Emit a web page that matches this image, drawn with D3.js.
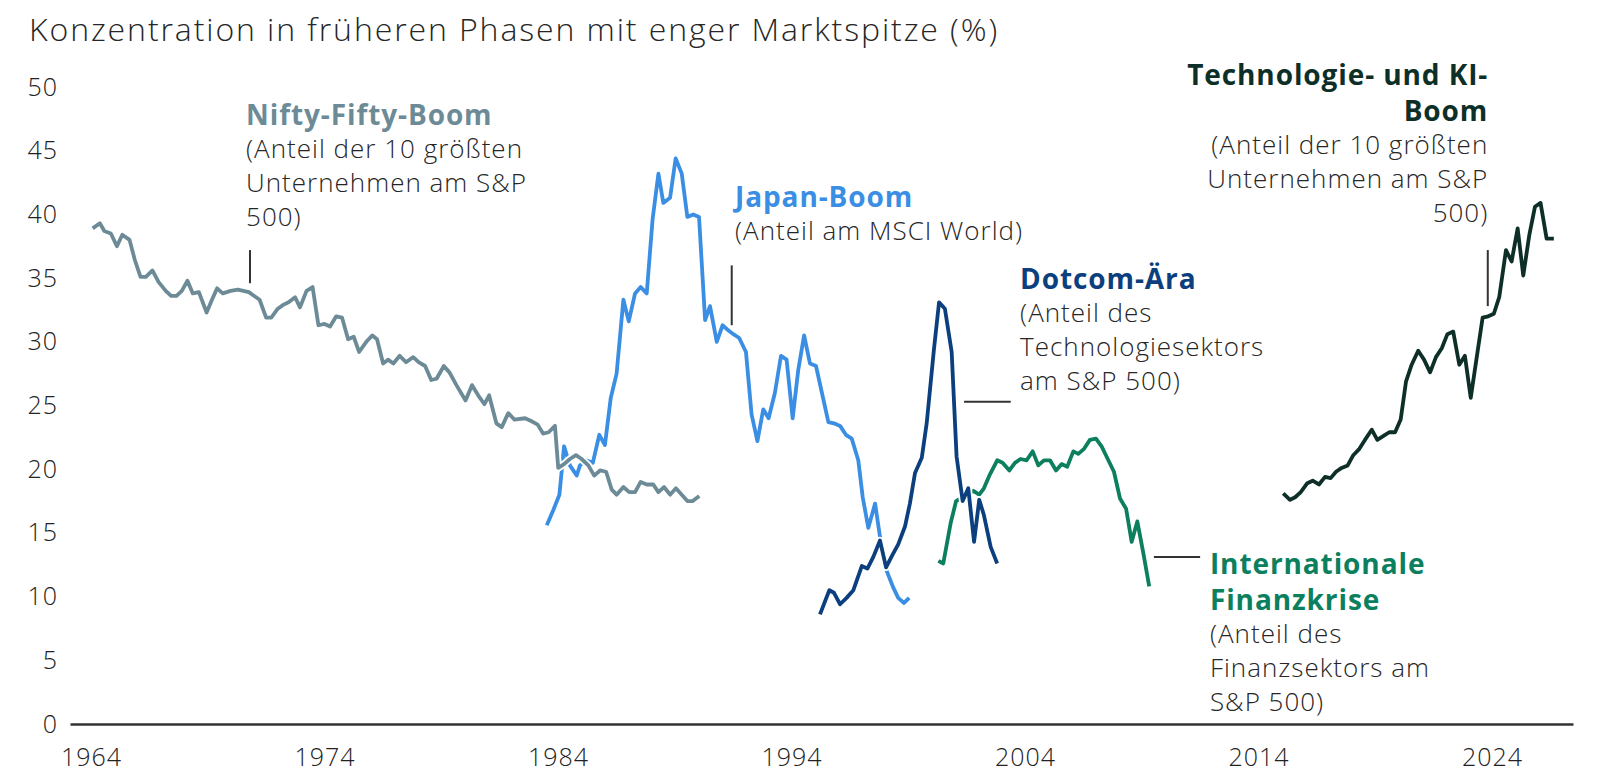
<!DOCTYPE html>
<html>
<head>
<meta charset="utf-8">
<script src="https://cdn.jsdelivr.net/npm/d3@7"></script>
<style>
  body { margin: 0; background: #fff; }
  svg { display: block; }
  text { font-family: "Open Sans", sans-serif; }
</style>
</head>
<body>
<div id="chart"></div>
<script>
// tick labels
var xTicks = [1964, 1974, 1984, 1994, 2004, 2014, 2024];
var yTicks = [0, 5, 10, 15, 20, 25, 30, 35, 40, 45, 50];

// [year, share in %]
var nifty = [
  [1964.07,38.9],[1964.38,39.3],[1964.57,38.7],[1964.85,38.5],[1965.11,37.5],[1965.34,38.4],[1965.65,38.0],[1965.88,36.4],
  [1966.12,35.1],[1966.35,35.1],[1966.63,35.6],[1966.89,34.7],[1967.2,34.0],[1967.43,33.6],[1967.66,33.6],[1967.89,34.0],
  [1968.13,34.8],[1968.36,33.8],[1968.62,33.9],[1968.95,32.3],[1969.18,33.3],[1969.4,34.2],[1969.64,33.8],[1969.98,34.0],
  [1970.29,34.1],[1970.76,33.9],[1970.99,33.6],[1971.22,33.3],[1971.5,31.9],[1971.72,31.9],[1972.0,32.6],[1972.23,32.9],
  [1972.46,33.1],[1972.74,33.5],[1972.95,32.7],[1973.23,34.0],[1973.49,34.3],[1973.74,31.3],[1974.0,31.4],[1974.24,31.2],
  [1974.5,32.0],[1974.75,31.9],[1975.01,30.2],[1975.25,30.4],[1975.48,29.2],[1975.79,30.0],[1976.05,30.5],[1976.25,30.2],
  [1976.51,28.3],[1976.72,28.6],[1976.95,28.3],[1977.22,28.9],[1977.49,28.4],[1977.8,28.8],[1978.03,28.4],[1978.31,28.1],
  [1978.57,27.0],[1978.8,27.1],[1979.11,28.1],[1979.35,27.6],[1979.65,26.6],[1980.04,25.4],[1980.32,26.6],[1980.58,25.8],
  [1980.85,25.1],[1981.05,25.8],[1981.36,23.6],[1981.59,23.3],[1981.87,24.4],[1982.13,23.9],[1982.59,24.0],[1982.83,23.8],
  [1983.13,23.5],[1983.36,22.8],[1983.6,22.9],[1983.87,23.4],[1984.01,20.1],[1984.26,20.4],[1984.51,20.8],[1984.77,21.1],
  [1985.01,20.8],[1985.3,20.3],[1985.55,19.5],[1985.8,19.9],[1986.06,19.8],[1986.3,18.4],[1986.51,18.0],[1986.8,18.6],
  [1987.05,18.2],[1987.3,18.2],[1987.54,19.0],[1987.8,18.8],[1988.08,18.8],[1988.3,18.2],[1988.54,18.6],[1988.8,18.0],
  [1989.05,18.5],[1989.3,18.0],[1989.54,17.5],[1989.77,17.5],[1990.05,17.9]
];

var japan = [
  [1983.52,15.6],[1983.8,16.8],[1984.06,18.0],[1984.26,21.8],[1984.51,20.3],[1984.8,19.5],[1984.94,20.3],[1985.2,20.7],
  [1985.49,20.5],[1985.77,22.7],[1986.01,21.9],[1986.26,25.6],[1986.51,27.5],[1986.8,33.3],[1987.03,31.6],[1987.3,33.8],
  [1987.54,34.3],[1987.8,33.8],[1988.05,39.6],[1988.3,43.2],[1988.51,40.9],[1988.8,41.3],[1989.04,44.4],[1989.3,43.2],
  [1989.54,39.8],[1989.79,40.0],[1990.04,39.8],[1990.3,31.7],[1990.51,32.8],[1990.8,30.0],[1991.05,31.3],[1991.29,30.9],
  [1991.51,30.6],[1991.76,30.3],[1992.05,29.2],[1992.29,24.3],[1992.54,22.2],[1992.79,24.7],[1993.02,24.0],[1993.29,26.0],
  [1993.55,28.9],[1993.79,28.6],[1994.05,24.0],[1994.29,27.8],[1994.54,30.5],[1994.79,28.3],[1995.05,28.1],[1995.29,26.1],
  [1995.58,23.7],[1995.82,23.6],[1996.08,23.4],[1996.33,22.7],[1996.58,22.4],[1996.86,20.7],[1997.05,17.8],[1997.29,15.4],
  [1997.58,17.3],[1997.79,14.7],[1998.08,12.0],[1998.36,10.7],[1998.57,9.9],[1998.82,9.5],[1999.04,9.9]
];

var dotcom = [
  [1995.22,8.6],[1995.62,10.5],[1995.82,10.3],[1996.08,9.4],[1996.36,9.9],[1996.65,10.5],[1997.01,12.4],[1997.25,12.2],
  [1997.5,13.1],[1997.79,14.4],[1998.05,12.3],[1998.33,13.3],[1998.57,14.1],[1998.86,15.5],[1999.07,17.3],[1999.29,19.7],
  [1999.58,20.9],[1999.79,23.6],[2000.1,29.4],[2000.32,33.1],[2000.57,32.6],[2000.86,29.2],[2001.07,21.0],[2001.33,17.5],
  [2001.57,18.5],[2001.82,14.3],[2002.04,17.6],[2002.24,16.4],[2002.53,13.9],[2002.81,12.6]
];

var gfc = [
  [2000.29,12.8],[2000.5,12.6],[2000.82,15.8],[2001.05,17.5],[2001.79,18.3],[2002.04,18.0],[2002.24,18.5],[2002.5,19.6],
  [2002.81,20.7],[2003.04,20.5],[2003.33,19.9],[2003.57,20.5],[2003.81,20.8],[2004.07,20.7],[2004.33,21.4],[2004.57,20.3],
  [2004.81,20.7],[2005.07,20.7],[2005.33,19.9],[2005.57,20.4],[2005.81,20.2],[2006.07,21.4],[2006.28,21.2],[2006.53,21.6],
  [2006.78,22.3],[2007.04,22.4],[2007.28,21.8],[2007.57,20.7],[2007.81,19.8],[2008.07,17.7],[2008.33,16.9],[2008.57,14.3],
  [2008.81,15.9],[2009.07,13.4],[2009.32,10.8]
];

var tech = [
  [2015.06,18.1],[2015.35,17.6],[2015.57,17.8],[2015.81,18.2],[2016.09,18.9],[2016.32,19.1],[2016.59,18.8],[2016.85,19.4],
  [2017.09,19.3],[2017.32,19.8],[2017.56,20.1],[2017.82,20.3],[2018.06,21.1],[2018.32,21.6],[2018.56,22.3],[2018.85,23.1],
  [2019.09,22.3],[2019.34,22.6],[2019.6,22.9],[2019.85,22.9],[2020.09,23.9],[2020.32,26.9],[2020.56,28.2],[2020.84,29.3],
  [2021.09,28.6],[2021.35,27.6],[2021.6,28.8],[2021.85,29.5],[2022.09,30.6],[2022.34,30.8],[2022.6,28.2],[2022.84,28.9],
  [2023.09,25.6],[2023.34,28.7],[2023.6,31.9],[2023.84,32.0],[2024.08,32.2],[2024.31,33.5],[2024.6,37.2],[2024.84,36.3],
  [2025.1,38.9],[2025.34,35.2],[2025.6,38.4],[2025.84,40.6],[2026.08,40.9],[2026.34,38.1],[2026.65,38.1]
];

var width = 1602,
    height = 780;

var x = d3.scaleLinear().domain([1963.1, 2027.47]).range([70, 1573]);
var y = d3.scaleLinear().domain([0, 50]).range([724, 87]);

var svg = d3.select("#chart").append("svg")
    .attr("width", width)
    .attr("height", height);

svg.append("text")
    .attr("x", 29)
    .attr("y", 41)
    .attr("fill", "#262626")
    .style("font-size", "32px")
    .style("font-weight", 300)
    .style("letter-spacing", "1.9px")
    .text("Konzentration in früheren Phasen mit enger Marktspitze (%)");

// axes
var yAxis = svg.append("g")
    .attr("transform", "translate(70,0)")
    .call(d3.axisLeft(y).tickValues(yTicks).tickSize(0).tickPadding(12));
yAxis.select(".domain").remove();

var xAxis = svg.append("g")
    .attr("transform", "translate(0,724)")
    .call(d3.axisBottom(x).tickValues(xTicks).tickFormat(d3.format("d")).tickSize(0).tickPadding(24));
xAxis.select(".domain").attr("stroke", "#333").attr("stroke-width", 2.6);

svg.selectAll(".tick text")
    .attr("fill", "#222")
    .style("font-family", "'Open Sans', sans-serif")
    .style("font-size", "25px")
    .style("font-weight", 300)
    .style("letter-spacing", "1px");

// series, drawn with a white halo so crossings show a gap
var series = [
  { data: japan, color: "#3a8ee3" },
  { data: nifty, color: "#6c8b97" },
  { data: gfc, color: "#0c7f5e" },
  { data: dotcom, color: "#0b3f7e" },
  { data: tech, color: "#0d2f28" }
];

var line = d3.line()
    .x(function(d) { return x(d[0]); })
    .y(function(d) { return y(d[1]); });

var lines = svg.append("g");
series.forEach(function(s) {
    lines.append("path")
        .attr("d", line(s.data))
        .attr("fill", "none")
        .attr("stroke", "#fff")
        .attr("stroke-width", 7.5)
        .attr("stroke-linejoin", "round");
    lines.append("path")
        .attr("d", line(s.data))
        .attr("fill", "none")
        .attr("stroke", s.color)
        .attr("stroke-width", 3.8)
        .attr("stroke-linejoin", "round");
});

// annotations
var notes = [
  { x: 1970.64, y: 47.02, anchor: "start", color: "#6c8b97",
    title: ["Nifty-Fifty-Boom"],
    body: ["(Anteil der 10 größten", "Unternehmen am S&P", "500)"],
    leader: [[1970.81, 37.2], [1970.81, 34.6]] },
  { x: 1991.58, y: 40.6, anchor: "start", color: "#3a8ee3",
    title: ["Japan-Boom"],
    body: ["(Anteil am MSCI World)"],
    leader: [[1991.44, 36.0], [1991.44, 31.3]] },
  { x: 2003.79, y: 34.12, anchor: "start", color: "#0b3f7e",
    title: ["Dotcom-Ära"],
    body: ["(Anteil des", "Technologiesektors", "am S&P 500)"],
    leader: [[2001.39, 25.3], [2003.39, 25.3]] },
  { x: 2011.92, y: 11.8, anchor: "start", color: "#0c7f5e",
    title: ["Internationale", "Finanzkrise"],
    body: ["(Anteil des", "Finanzsektors am", "S&P 500)"],
    leader: [[2009.52, 13.1], [2011.5, 13.1]] },
  { x: 2023.84, y: 50.13, anchor: "end", color: "#0d2f28",
    title: ["Technologie- und KI-", "Boom"],
    body: ["(Anteil der 10 größten", "Unternehmen am S&P", "500)"],
    leader: [[2023.82, 37.2], [2023.82, 32.8]] }
];

var noteG = svg.append("g");
notes.forEach(function(n) {
    var px = x(n.x), py = y(n.y);
    n.title.forEach(function(t, i) {
        noteG.append("text")
            .attr("x", px)
            .attr("y", py + i * 36)
            .attr("text-anchor", n.anchor)
            .attr("fill", n.color)
            .style("font-size", "28px")
            .style("font-weight", 700)
            .style("letter-spacing", "0.9px")
            .text(t);
    });
    var top = py + (n.title.length - 1) * 36 + 33;
    n.body.forEach(function(t, i) {
        noteG.append("text")
            .attr("x", px)
            .attr("y", top + i * 34)
            .attr("text-anchor", n.anchor)
            .attr("fill", "#262626")
            .style("font-size", "26px")
            .style("font-weight", 300)
            .style("letter-spacing", "1px")
            .text(t);
    });
    noteG.append("line")
        .attr("x1", x(n.leader[0][0])).attr("y1", y(n.leader[0][1]))
        .attr("x2", x(n.leader[1][0])).attr("y2", y(n.leader[1][1]))
        .attr("stroke", "#333")
        .attr("stroke-width", 2);
});
</script>
</body>
</html>
